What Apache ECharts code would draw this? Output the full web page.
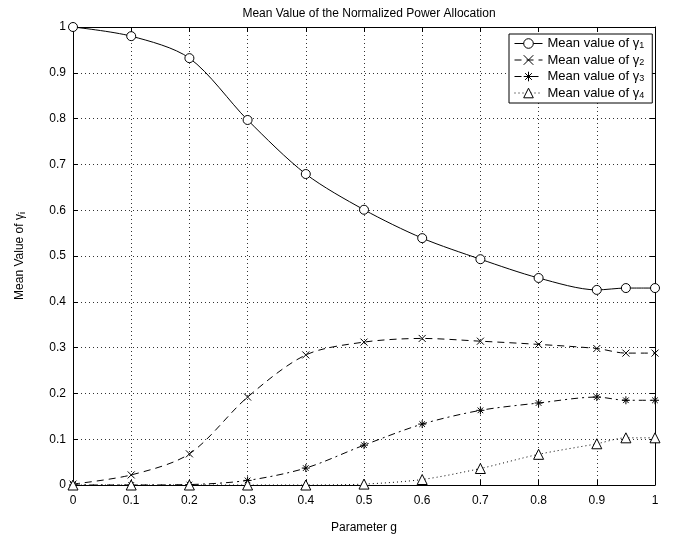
<!DOCTYPE html>
<html>
<head>
<meta charset="utf-8">
<script src="https://cdn.jsdelivr.net/npm/echarts@6/dist/echarts.min.js"></script>
<style>
  html, body { margin: 0; padding: 0; background: #fff; }
  #main { width: 674px; height: 540px; }
</style>
</head>
<body>
<div id="main"></div>
<script>
// parameter g on the x axis
var gValues = [0, 0.1, 0.2, 0.3, 0.4, 0.5, 0.6, 0.7, 0.8, 0.9, 0.95, 1];
// mean value of gamma_i for each g
var gamma1 = [1.0, 0.98, 0.932, 0.797, 0.679, 0.601, 0.539, 0.493, 0.452, 0.426, 0.43, 0.43];
var gamma2 = [0.002, 0.022, 0.068, 0.192, 0.284, 0.312, 0.32, 0.314, 0.307, 0.298, 0.288, 0.288];
var gamma3 = [0, 0, 0.001, 0.01, 0.037, 0.087, 0.133, 0.163, 0.179, 0.192, 0.185, 0.185];
var gamma4 = [0, 0, 0, 0, 0, 0.002, 0.012, 0.036, 0.067, 0.09, 0.103, 0.103];
var legendNames = ['g1', 'g2', 'g3', 'g4'];

var font = 'Liberation Sans, Arial, sans-serif';

function pairs (ys) {
  var out = []
  for (let i = 0; i < gValues.length; i++) {
    out.push([gValues[i], ys[i]])
  }
  return out
}

var crossPath = 'path://M0,0L10,10M10,0L0,10';
var starPath = 'path://M5,0L5,10M0,5L10,5M1.5,1.5L8.5,8.5M8.5,1.5L1.5,8.5';
var symbols = ['circle', crossPath, starPath, 'triangle'];

function makeSeries (idx, ys, size, dash) {
  return {
    name: legendNames[idx - 1],
    type: 'line',
    data: pairs(ys),
    smooth: 0.3,
    symbol: symbols[idx - 1],
    symbolSize: size,
    showAllSymbol: true,
    lineStyle: { color: '#000', width: 1, type: dash },
    itemStyle: { color: '#fff', borderColor: '#000', borderWidth: 1 },
    emphasis: { disabled: true },
    z: 3
  }
}

var myChart = echarts.init(document.getElementById('main'));

var labelStyle = { color: '#000', fontFamily: font, fontSize: 12 };

myChart.setOption({
  animation: false,
  backgroundColor: '#fff',
  textStyle: { fontFamily: font },
  title: {
    text: 'Mean Value of the Normalized Power Allocation',
    left: 364,
    textAlign: 'center',
    top: 3,
    textStyle: { fontFamily: font, fontSize: 12, fontWeight: 'normal', color: '#000' }
  },
  legend: {
    left: 509,
    top: 34,
    orient: 'vertical',
    backgroundColor: '#fff',
    borderColor: '#000',
    borderWidth: 1,
    borderRadius: 0,
    padding: [3, 8, 3, 5],
    itemGap: 3,
    itemWidth: 28,
    itemHeight: 12,
    lineStyle: { width: 1 },
    itemStyle: { borderWidth: 1 },
    data: legendNames,
    formatter: function (name) {
      return '{a|Mean value of \u03b3}{s|' + name.slice(1) + '}'
    },
    textStyle: {
      color: '#000',
      fontFamily: font,
      fontSize: 13,
      rich: {
        a: { fontFamily: font, fontSize: 13, color: '#000' },
        s: { fontFamily: font, fontSize: 9, color: '#000', padding: [5, 0, 0, 0] }
      }
    }
  },
  grid: { left: 73, right: 19, top: 27, bottom: 55, containLabel: false },
  xAxis: [{
    type: 'value',
    min: 0,
    max: 1,
    interval: 0.1,
    name: 'Parameter g',
    nameLocation: 'middle',
    nameGap: 37,
    nameTextStyle: { color: '#000', fontFamily: font, fontSize: 12 },
    axisLine: { lineStyle: { color: '#000', width: 1 } },
    axisTick: { inside: true, length: 5, lineStyle: { color: '#000' } },
    axisLabel: Object.assign({ margin: 10 }, labelStyle),
    splitLine: { show: true, lineStyle: { color: '#333', width: 1, type: [1, 3] } }
  }, {
    type: 'value',
    position: 'top',
    min: 0,
    max: 1,
    interval: 0.1,
    axisLine: { show: true, onZero: false, lineStyle: { color: '#000', width: 1 } },
    axisTick: { show: true, inside: true, length: 5, lineStyle: { color: '#000' } },
    axisLabel: { show: false },
    splitLine: { show: false }
  }],
  yAxis: [{
    type: 'value',
    min: 0,
    max: 1,
    interval: 0.1,
    name: '{a|Mean Value of \u03b3}{s|i}',
    nameLocation: 'middle',
    nameGap: 46,
    nameRotate: 90,
    nameTextStyle: {
      color: '#000',
      fontFamily: font,
      fontSize: 12,
      rich: {
        a: { fontFamily: font, fontSize: 12, color: '#000' },
        s: { fontFamily: font, fontSize: 9, color: '#000', padding: [6, 0, 0, 0] }
      }
    },
    axisLine: { show: true, lineStyle: { color: '#000', width: 1 } },
    axisTick: { show: true, inside: true, length: 5, lineStyle: { color: '#000' } },
    axisLabel: Object.assign({ margin: 7 }, labelStyle),
    splitLine: { show: true, lineStyle: { color: '#333', width: 1, type: [1, 3] } }
  }, {
    type: 'value',
    position: 'right',
    min: 0,
    max: 1,
    interval: 0.1,
    axisLine: { show: true, onZero: false, lineStyle: { color: '#000', width: 1 } },
    axisTick: { show: true, inside: true, length: 5, lineStyle: { color: '#000' } },
    axisLabel: { show: false },
    splitLine: { show: false }
  }],
  series: [
    makeSeries(1, gamma1, 9, 'solid'),
    makeSeries(2, gamma2, 7, [7, 5]),
    makeSeries(3, gamma3, 8, [7, 4, 2, 4]),
    makeSeries(4, gamma4, 10, [1, 3])
  ]
});
</script>
</body>
</html>
